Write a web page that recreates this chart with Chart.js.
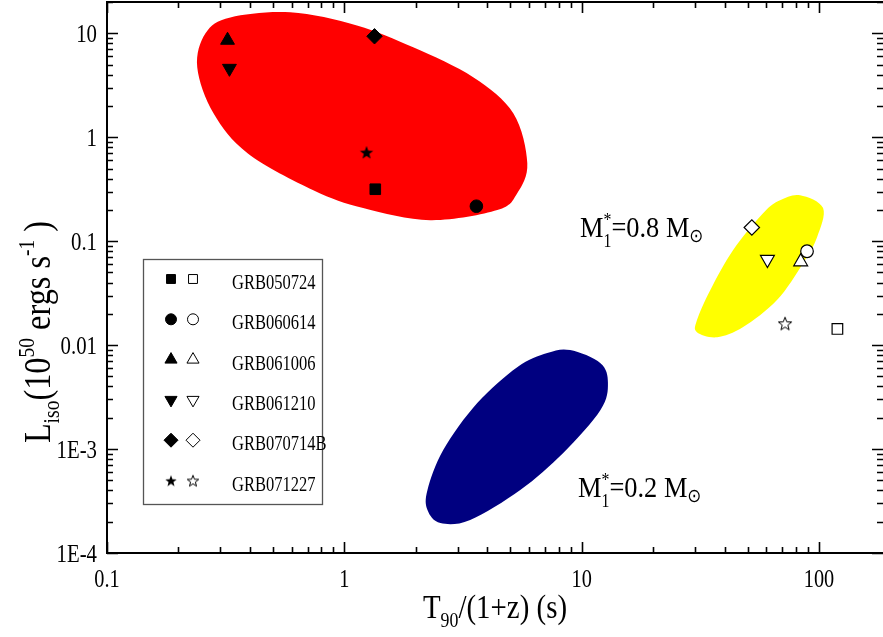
<!DOCTYPE html>
<html lang="en">
<head>
<meta charset="UTF-8">
<title>Liso vs T90/(1+z)</title>
<script src="https://cdn.jsdelivr.net/npm/chart.js"></script>
<style>
  body { margin: 0; background: #fff; }
</style>
</head>
<body>
<canvas id="grbChart" width="883" height="637"></canvas>
<script>
const grbNames = ['GRB050724', 'GRB060614', 'GRB061006', 'GRB061210', 'GRB070714B', 'GRB071227'];
// filled symbols
const filledT90 = [1.35, 3.6, 0.322, 0.328, 1.34, 1.24];
const filledLiso = [0.316, 0.217, 8.57, 4.6, 9.36, 0.718];
// open symbols
const openT90 = [119.5, 89, 83.7, 60.6, 52.1, 71.9];
const openLiso = [0.0143, 0.080, 0.0633, 0.0667, 0.1355, 0.0162];

const xTicks = [0.1, 1, 10, 100];
const xTickLabels = ['0.1', '1', '10', '100'];
const yTicks = [1e-4, 1e-3, 0.01, 0.1, 1, 10];
const yTickLabels = ['1E-4', '1E-3', '0.01', '0.1', '1', '10'];

// outlines of the shaded regions
const redT90 = [0.592, 1.13, 1.95, 3.49, 5.15, 5.90, 5.35, 4.41, 2.30, 1.20, 0.740, 0.391, 0.281, 0.240, 0.260, 0.331];
const redLiso = [15.9, 11.9, 7.33, 3.78, 1.70, 0.562, 0.289, 0.199, 0.159, 0.208, 0.309, 0.702, 1.70, 4.71, 10.0, 14.2];
const yellowT90 = [83.2, 104, 98.1, 85.6, 66.5, 47.9, 37.2, 30.6, 30.6, 34.8, 43.4, 58.1, 68.5];
const yellowLiso = [0.277, 0.208, 0.109, 0.0614, 0.0271, 0.0149, 0.0119, 0.0133, 0.0174, 0.0338, 0.0819, 0.186, 0.248];
const navyT90 = [8.94, 12.0, 12.9, 12.0, 8.36, 5.51, 3.39, 2.54, 2.24, 2.24, 2.61, 3.63, 5.35, 7.16];
const navyLiso = [0.00895, 0.00671, 0.00431, 0.00237, 0.000916, 0.000403, 0.000208, 0.000194, 0.000259, 0.000403, 0.000978, 0.00277, 0.00614, 0.00838];

const SERIF = "'Liberation Serif', 'Times New Roman', serif";

function makeStar(r, filled) {
    const s = Math.ceil(r * 2 + 4);
    const c = document.createElement('canvas');
    c.width = s; c.height = s;
    const g = c.getContext('2d');
    g.beginPath();
    for (let i = 0; i < 10; i++) {
        const rr = i % 2 === 0 ? r : r * 0.42;
        const a = -Math.PI / 2 + i * Math.PI / 5;
        const px = s / 2 + rr * Math.cos(a), py = s / 2 + 0.8 + rr * Math.sin(a);
        if (i === 0) g.moveTo(px, py); else g.lineTo(px, py);
    }
    g.closePath();
    g.fillStyle = filled ? '#000' : '#fff';
    g.fill();
    if (!filled) { g.lineWidth = 1; g.strokeStyle = '#000'; g.stroke(); }
    return c;
}

const styles = ['rect', 'circle', 'triangle', 'triangle', 'rectRot', 'star'];
const rotations = [0, 0, 0, 180, 0, 0];
const plotRadius = [7.5, 6.3, 8, 8, 7.7, 7];
const legendRadius = [6.3, 5.5, 7, 7, 7, 6];

function pointStyles(filled, radii) {
    return styles.map((s, i) => s === 'star' ? makeStar(radii[i], filled) : s);
}

function richWidth(ctx, parts) {
    let w = 0;
    for (const p of parts) {
        ctx.font = p.size + 'px ' + (p.family || SERIF);
        if (p.adv !== 0) w += ctx.measureText(p.t).width;
    }
    return w;
}

function drawRich(ctx, parts, x, y, align, sx) {
    ctx.save();
    ctx.translate(x, y);
    ctx.scale(sx, 1);
    const w = richWidth(ctx, parts);
    let cx = align === 'center' ? -w / 2 : align === 'right' ? -w : 0;
    ctx.textAlign = 'left';
    ctx.textBaseline = 'alphabetic';
    ctx.fillStyle = '#000';
    for (const p of parts) {
        ctx.font = p.size + 'px ' + (p.family || SERIF);
        ctx.fillText(p.t, cx + (p.dx || 0), p.dy || 0);
        if (p.adv !== 0) cx += ctx.measureText(p.t).width;
    }
    ctx.restore();
}

function smoothClosed(ctx, pts) {
    const n = pts.length;
    ctx.moveTo(pts[0][0], pts[0][1]);
    for (let i = 0; i < n; i++) {
        const p0 = pts[(i - 1 + n) % n], p1 = pts[i], p2 = pts[(i + 1) % n], p3 = pts[(i + 2) % n];
        ctx.bezierCurveTo(
            p1[0] + (p2[0] - p0[0]) / 6, p1[1] + (p2[1] - p0[1]) / 6,
            p2[0] - (p3[0] - p1[0]) / 6, p2[1] - (p3[1] - p1[1]) / 6,
            p2[0], p2[1]);
    }
    ctx.closePath();
}

const regions = [
    { t90: redT90, liso: redLiso, color: '#ff0000' },
    { t90: yellowT90, liso: yellowLiso, color: '#ffff00' },
    { t90: navyT90, liso: navyLiso, color: '#000080' }
];

const regionPlugin = {
    id: 'regions',
    beforeDatasetsDraw(chart) {
        const { ctx, chartArea, scales: { x, y } } = chart;
        ctx.save();
        ctx.beginPath();
        ctx.rect(chartArea.left, chartArea.top, chartArea.right - chartArea.left, chartArea.bottom - chartArea.top);
        ctx.clip();
        regions.forEach(r => {
            const pts = r.t90.map((t, i) => [x.getPixelForValue(t), y.getPixelForValue(r.liso[i])]);
            ctx.beginPath();
            smoothClosed(ctx, pts);
            ctx.fillStyle = r.color;
            ctx.fill();
        });
        ctx.restore();
    }
};

function logMarks(min, max) {
    const out = [];
    for (let e = Math.floor(Math.log10(min)); e <= Math.ceil(Math.log10(max)); e++) {
        for (let m = 1; m < 10; m++) {
            const v = m * Math.pow(10, e);
            if (v >= min * 0.999 && v <= max * 1.001) out.push({ v, major: m === 1 });
        }
    }
    return out;
}

const framePlugin = {
    id: 'frame',
    afterDraw(chart) {
        const { ctx, chartArea: a, scales: { x, y } } = chart;
        ctx.save();
        ctx.strokeStyle = '#000';
        ctx.lineWidth = 2;
        ctx.beginPath();
        ctx.moveTo(a.right, a.top); ctx.lineTo(a.left, a.top);
        ctx.lineTo(a.left, a.bottom); ctx.lineTo(a.right, a.bottom);
        ctx.stroke();
        ctx.lineWidth = 1.6;
        ctx.beginPath();
        logMarks(x.min, x.max).forEach(m => {
            const px = Math.round(x.getPixelForValue(m.v)) + 0.5;
            const len = m.major ? 11 : 6;
            ctx.moveTo(px, a.bottom); ctx.lineTo(px, a.bottom - len);
            ctx.moveTo(px, a.top); ctx.lineTo(px, a.top + len);
        });
        logMarks(y.min, y.max).forEach(m => {
            const py = Math.round(y.getPixelForValue(m.v)) + 0.5;
            const len = m.major ? 11 : 6;
            ctx.moveTo(a.left, py); ctx.lineTo(a.left + len, py);
            ctx.moveTo(a.right, py); ctx.lineTo(a.right - len, py);
        });
        ctx.stroke();

        // tick labels
        xTicks.forEach((v, i) => {
            drawRich(ctx, [{ t: xTickLabels[i], size: 26 }], x.getPixelForValue(v), a.bottom + 34, 'center', 0.78);
        });
        yTicks.forEach((v, i) => {
            drawRich(ctx, [{ t: yTickLabels[i], size: 26 }], a.left - 10, y.getPixelForValue(v) + 9, 'right', 0.8);
        });

        // axis titles
        drawRich(ctx, [
            { t: 'T', size: 34 },
            { t: '90', size: 21, dy: 9 },
            { t: '/(1+z) (s)', size: 34 }
        ], 495, 618, 'center', 0.85);

        ctx.save();
        ctx.translate(50, 332);
        ctx.rotate(-Math.PI / 2);
        drawRich(ctx, [
            { t: 'L', size: 38 },
            { t: 'iso', size: 23, dy: 9 },
            { t: '(10', size: 38 },
            { t: '50', size: 23, dy: -16 },
            { t: ' ergs s', size: 38 },
            { t: '-1', size: 23, dy: -16 },
            { t: ' )', size: 38 }
        ], 0, 0, 'center', 0.85);
        ctx.restore();

        // mass annotations
        const annot = (val, px, py) => drawRich(ctx, [
            { t: 'M', size: 30 },
            { t: '*', size: 18, dy: -11, adv: 0 },
            { t: '1', size: 18, dy: 10 },
            { t: '=' + val + ' ', size: 30 },
            { t: 'M', size: 30 },
            { t: '\u2299', size: 19, dy: 5, family: "'DejaVu Sans'" }
        ], px, py, 'left', 0.88);
        annot('0.8', 580, 237);
        annot('0.2', 578, 497);

        // legend
        ctx.strokeStyle = '#555';
        ctx.lineWidth = 1.3;
        ctx.strokeRect(143.5, 259.5, 179, 245);
        const filledLeg = pointStyles(true, legendRadius);
        const openLeg = pointStyles(false, legendRadius);
        grbNames.forEach((name, i) => {
            const ry = 282 + i * 40.3;
            [[171, filledLeg, '#000'], [193, openLeg, '#fff']].forEach(([lx, st, fill]) => {
                ctx.fillStyle = fill;
                ctx.strokeStyle = '#000';
                ctx.lineWidth = 1;
                Chart.helpers.drawPoint(ctx, {
                    pointStyle: st[i], rotation: rotations[i], radius: legendRadius[i], borderWidth: 1
                }, lx, ry - 3);
            });
            drawRich(ctx, [{ t: name, size: 22 }], 232, ry + 7, 'left', 0.75);
        });
        ctx.restore();
    }
};

const ctx = document.getElementById('grbChart').getContext('2d');

new Chart(ctx, {
    type: 'scatter',
    data: {
        datasets: [
            {
                label: 'filled',
                data: filledT90.map((t, i) => ({ x: t, y: filledLiso[i] })),
                pointStyle: pointStyles(true, plotRadius),
                pointRotation: rotations,
                pointRadius: plotRadius,
                backgroundColor: '#000',
                borderColor: '#000',
                borderWidth: 1
            },
            {
                label: 'open',
                data: openT90.map((t, i) => ({ x: t, y: openLiso[i] })),
                pointStyle: pointStyles(false, plotRadius),
                pointRotation: rotations,
                pointRadius: plotRadius,
                backgroundColor: '#fff',
                borderColor: '#000',
                borderWidth: 1.2
            }
        ]
    },
    options: {
        responsive: false,
        animation: false,
        events: [],
        layout: { autoPadding: false, padding: { top: 2, left: 0, right: 0, bottom: 0 } },
        plugins: { legend: { display: false }, tooltip: { enabled: false } },
        scales: {
            x: {
                type: 'logarithmic', min: 0.1, max: 186, bounds: 'data',
                grid: { display: false, drawTicks: false }, border: { display: false },
                ticks: { display: false },
                afterBuildTicks: s => { s.ticks = xTicks.map(v => ({ value: v })); },
                afterFit: s => { s.height = 84; }
            },
            y: {
                type: 'logarithmic', min: 1e-4, max: 20, bounds: 'data',
                grid: { display: false, drawTicks: false }, border: { display: false },
                ticks: { display: false },
                afterBuildTicks: s => { s.ticks = yTicks.map(v => ({ value: v })); },
                afterFit: s => { s.width = 107; }
            }
        }
    },
    plugins: [regionPlugin, framePlugin]
});
</script>
</body>
</html>
